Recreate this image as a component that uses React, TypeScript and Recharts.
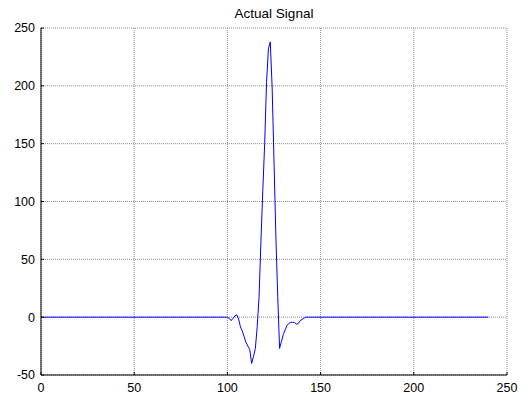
import { LineChart, Line, XAxis, YAxis, CartesianGrid } from "recharts";

// sample index and amplitude (flat zero outside the pulse)
const sampleX = [
  0, 100, 101, 102, 103, 104, 105, 106, 107, 108, 109, 110, 111, 112, 113, 114,
  115, 116, 117, 118, 119, 120, 121, 122, 123, 124, 125, 126, 127, 128, 129,
  130, 131, 132, 133, 134, 135, 136, 137, 138, 139, 140, 141, 142, 240,
];
const amplitude = [
  0, 0, -1, -3, -1, 1, 2, -1.5, -8.5, -12, -17, -22, -25, -28, -40, -34, -27,
  -8, 18, 66, 110, 150, 203, 232, 238, 199, 135, 70, 18, -27, -21, -15, -11,
  -7, -5.5, -4.5, -4.5, -4.5, -6, -5.5, -3, -2, -1, 0, 0,
];
const xTicks = [0, 50, 100, 150, 200, 250];
const yTicks = [-50, 0, 50, 100, 150, 200, 250];

const data = sampleX.map((x, i) => ({ x, y: amplitude[i] }));

const font = "Liberation Sans, Arial, sans-serif";
const tickStyle = { fontSize: 12.5, fill: "#000", fontFamily: font };

function App() {
  return (
    <div style={{ position: "absolute", left: 0, top: 0, width: 522, height: 396, background: "#fff" }}>
      <div
        style={{
          position: "absolute",
          left: 41,
          width: 466,
          top: 6,
          textAlign: "center",
          fontFamily: font,
          fontSize: 13.5,
          lineHeight: "16px",
          color: "#000",
        }}
      >
        Actual Signal
      </div>
      <LineChart width={522} height={396} data={data} margin={{ top: 28, right: 15, bottom: 0, left: 0 }}>
        <CartesianGrid stroke="#8c8c8c" strokeDasharray="1 1" />
        <XAxis
          dataKey="x"
          type="number"
          domain={[0, 250]}
          ticks={xTicks}
          height={21}
          tickSize={-3}
          tickMargin={11}
          interval={0}
          axisLine={{ stroke: "#000" }}
          tickLine={{ stroke: "#000" }}
          tick={tickStyle}
        />
        <XAxis
          xAxisId="top"
          orientation="top"
          type="number"
          domain={[0, 250]}
          ticks={xTicks}
          height={0}
          tickSize={-3}
          axisLine={{ stroke: "#000" }}
          tickLine={{ stroke: "#000" }}
          tick={false}
        />
        <YAxis
          type="number"
          domain={[-50, 250]}
          ticks={yTicks}
          width={41}
          tickSize={-3}
          tickMargin={9}
          interval={0}
          axisLine={{ stroke: "#000" }}
          tickLine={{ stroke: "#000" }}
          tick={tickStyle}
        />
        <YAxis
          yAxisId="right"
          orientation="right"
          type="number"
          domain={[-50, 250]}
          ticks={yTicks}
          width={0}
          tickSize={-3}
          axisLine={{ stroke: "#000" }}
          tickLine={{ stroke: "#000" }}
          tick={false}
        />
        <Line
          dataKey="y"
          type="linear"
          stroke="#0000ff"
          strokeWidth={1}
          dot={false}
          isAnimationActive={false}
        />
      </LineChart>
    </div>
  );
}

export default App;
